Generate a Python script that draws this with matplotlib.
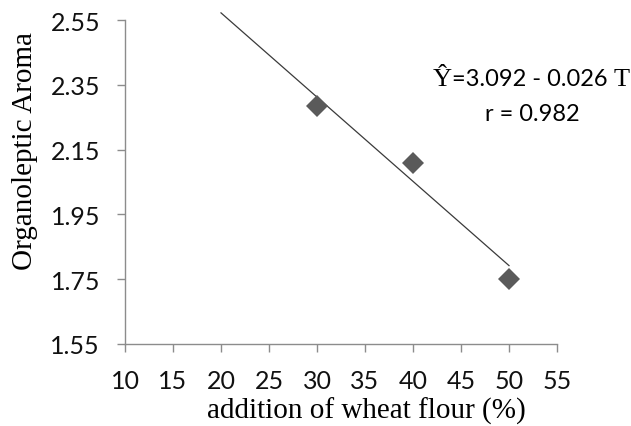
import matplotlib.pyplot as plt
import numpy as np

# data
wheat_flour = [30, 40, 50]
aroma = [2.285, 2.11, 1.75]
intercept = 3.092
slope = -0.026
fit_range = [20, 50]

xticks = [10, 15, 20, 25, 30, 35, 40, 45, 50, 55]
yticks = [1.55, 1.75, 1.95, 2.15, 2.35, 2.55]

sans = "Lato"
serif = "Liberation Serif"
axis_col = "#8c8c8c"

fig = plt.figure(figsize=(6.31, 4.27), dpi=100)
ax = fig.add_axes([125 / 631, 1 - 345 / 427, 432 / 631, 324 / 427])

fit_x = np.array(fit_range)
fit_y = intercept + slope * fit_x
ax.plot(fit_x, fit_y, color="#3a3a3a", lw=0.9, clip_on=False, zorder=2)
ax.plot(wheat_flour, aroma, "D", color="#5a5a5a", ms=11.5, mew=0, zorder=3)

ax.set_xlim(10, 55)
ax.set_ylim(1.55, 2.55)
ax.set_xticks(xticks)
ax.set_yticks(yticks)
ax.set_xticklabels([str(v) for v in xticks])
ax.set_yticklabels(["%.2f" % v for v in yticks])

for s in ["top", "right"]:
    ax.spines[s].set_visible(False)
for s in ["left", "bottom"]:
    ax.spines[s].set_color(axis_col)
    ax.spines[s].set_linewidth(1)

ax.tick_params(axis="both", direction="out", length=6, width=1, color=axis_col,
               labelsize=18, labelcolor="#111111")
ax.tick_params(axis="y", pad=12)
ax.tick_params(axis="x", pad=12)
for lab in ax.get_xticklabels() + ax.get_yticklabels():
    lab.set_fontfamily(sans)

ax.set_xlabel("addition of wheat flour (%)", fontfamily=serif, fontsize=21, va="center")
ax.xaxis.set_label_coords(0.558, -0.206)
ax.set_ylabel("Organoleptic Aroma", fontfamily=serif, fontsize=21, va="center")
ax.yaxis.set_label_coords(-0.231, 0.599)

# regression equation, mixed fonts like the original
t1 = ax.text(0.712, 0.80, "Ŷ", transform=ax.transAxes, fontfamily=serif, fontsize=19,
             ha="left", va="baseline")
t2 = ax.annotate("=3.092 - 0.026 ", xy=(1, 0.80), xycoords=(t1, "axes fraction"),
                 fontfamily=sans, fontsize=17, ha="left", va="baseline", annotation_clip=False)
t3 = ax.annotate("T", xy=(1, 0.80), xycoords=(t2, "axes fraction"),
                 fontfamily=serif, fontsize=19, ha="left", va="baseline", annotation_clip=False)
ax.text(0.942, 0.69, "r = 0.982", transform=ax.transAxes, fontfamily=sans, fontsize=17,
        ha="center", va="baseline")

fig.savefig("out.png", dpi=100)
